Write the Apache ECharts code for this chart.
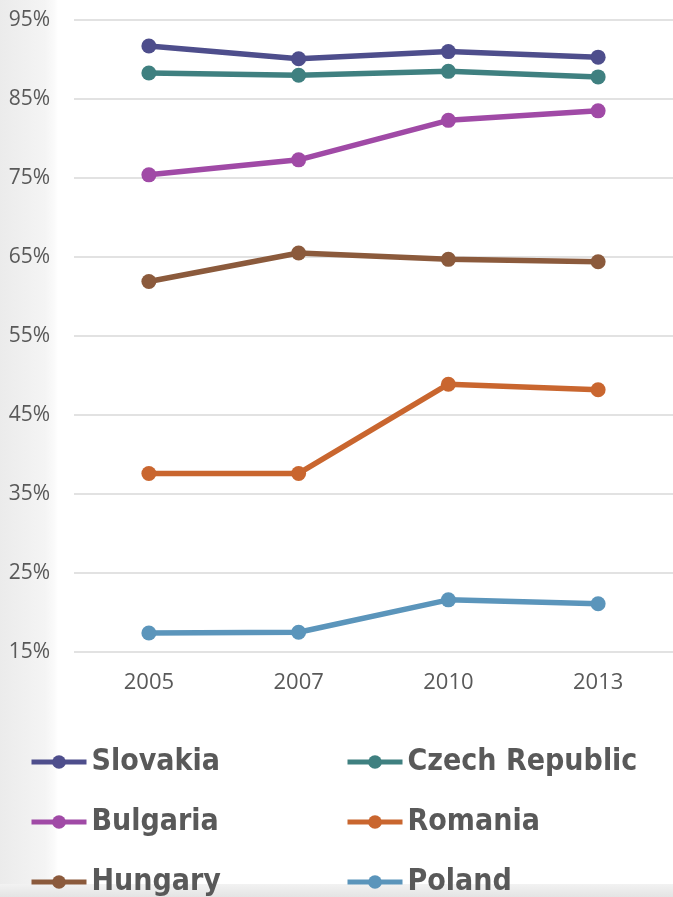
<!DOCTYPE html>
<html>
<head>
<meta charset="utf-8">
<script src="https://cdn.jsdelivr.net/npm/echarts@6/dist/echarts.min.js"></script>
<style>
html,body{margin:0;padding:0;}
body{width:673px;height:897px;overflow:hidden;
background:linear-gradient(to right,#ebebeb 0px,#f4f4f4 45px,#fbfbfb 55px,#ffffff 58px);}
#bottom{position:absolute;left:0;top:884px;width:673px;height:13px;background:linear-gradient(to bottom,#f2f2f2,#e4e4e4);}
#chart{position:absolute;left:0;top:0;width:673px;height:897px;}
</style>
</head>
<body>
<div id="bottom"></div>
<div id="chart"></div>
<script>
const years = ['2005', '2007', '2010', '2013'];
const slovakia = [91.7, 90.1, 91.0, 90.3];
const czech = [88.3, 88.0, 88.5, 87.8];
const bulgaria = [75.4, 77.3, 82.3, 83.5];
const romania = [37.6, 37.6, 48.9, 48.2];
const hungary = [61.9, 65.5, 64.7, 64.4];
const poland = [17.4, 17.5, 21.6, 21.1];
const yTicks = [15, 25, 35, 45, 55, 65, 75, 85, 95];

const names = ['Slovakia', 'Czech Republic', 'Bulgaria', 'Romania', 'Hungary', 'Poland'];
const datas = [slovakia, czech, bulgaria, romania, hungary, poland];
const colors = ['#4e4e8c', '#3f8080', '#a04aa6', '#c9662f', '#8b5a3c', '#5b95bb'];

const chart = echarts.init(document.getElementById('chart'));
const legendText = {fontSize: 30, fontWeight: 'bold', color: '#595959', fontFamily: '"Liberation Sans Narrow","DejaVu Sans Condensed",sans-serif'};
const legendBase = {orient: 'vertical', itemWidth: 55, itemHeight: 17, itemGap: 30, textStyle: legendText, padding: 0,
  lineStyle: {width: 5}};
chart.setOption({
  backgroundColor: 'transparent',
  animation: false,
  color: colors,
  grid: {left: 74, top: 20, width: 600, height: 632, containLabel: false},
  xAxis: {
    type: 'category', data: years, boundaryGap: true,
    axisLine: {show: false}, axisTick: {show: false},
    axisLabel: {color: '#595959', fontSize: 22, margin: 20, fontFamily: '"Open Sans",sans-serif'}
  },
  yAxis: {
    type: 'value', min: yTicks[0], max: yTicks[yTicks.length - 1], interval: 10,
    axisLine: {show: false}, axisTick: {show: false},
    splitLine: {lineStyle: {color: '#d9d9d9', width: 1.5}},
    axisLabel: {color: '#595959', fontSize: 21, margin: 24, fontFamily: '"Open Sans",sans-serif',
      formatter: v => v + '%'}
  },
  legend: [
    Object.assign({}, legendBase, {left: 29, top: 747, data: ['Slovakia', 'Bulgaria', 'Hungary']}),
    Object.assign({}, legendBase, {left: 345, top: 747, data: ['Czech Republic', 'Romania', 'Poland']})
  ],
  series: names.map((n, i) => ({
    name: n, type: 'line', data: datas[i],
    symbol: 'circle', symbolSize: 15,
    lineStyle: {width: 5.5, color: colors[i]},
    itemStyle: {color: colors[i]}
  }))
});
</script>
</body>
</html>
